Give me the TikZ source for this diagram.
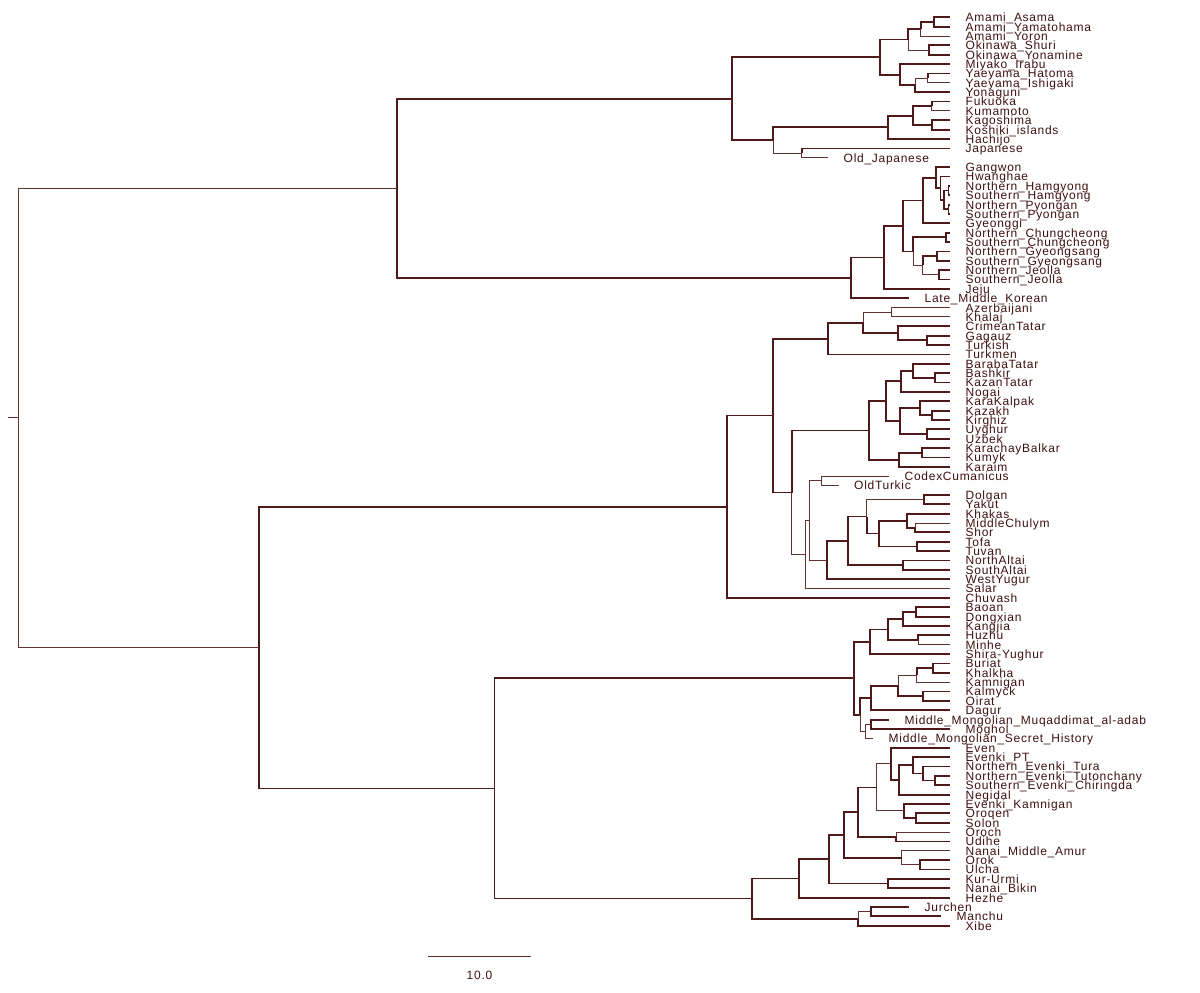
\documentclass[tikz,border=0pt]{standalone}
\usepackage{fontspec}
\newfontfamily\lblfont[LetterSpace=6]{Liberation Sans}
\usetikzlibrary{calc}
\definecolor{ln}{RGB}{77,25,25}
\definecolor{lnl}{RGB}{100,50,50}
\definecolor{tx}{RGB}{62,16,16}
\newcommand\mkleaf[3]{%
  \coordinate (l#1) at (#2,{-(17.3+9.365*#1)});
  \node[lab] (t#1) at ([xshift=15.5pt,yshift=-4.4pt]l#1) {#3};}
\newcommand\mknode[6]{%
  \path let \p1=(#3), \p2=(#4) in coordinate (#1) at (#2,{0.5*\y1+0.5*\y2});
  \draw[#5] (#1) |- (#3);
  \draw[#6] (#1) |- (#4);}
\begin{document}
\begin{tikzpicture}[x=1pt,y=1pt,
  tk/.style={draw=ln,line width=1.8pt},
  tn/.style={draw=lnl,line width=1pt},
  lab/.style={anchor=base west,inner sep=0pt,text=tx,font=\lblfont\fontsize{12}{13}\selectfont}]
\useasboundingbox (0,0) rectangle (1200,-993);
% ---------- leaves ----------
\mkleaf{0}{950}{Amami\_Asama}
\mkleaf{1}{950}{Amami\_Yamatohama}
\mkleaf{2}{950}{Amami\_Yoron}
\mkleaf{3}{950}{Okinawa\_Shuri}
\mkleaf{4}{950}{Okinawa\_Yonamine}
\mkleaf{5}{950}{Miyako\_Irabu}
\mkleaf{6}{950}{Yaeyama\_Hatoma}
\mkleaf{7}{950}{Yaeyama\_Ishigaki}
\mkleaf{8}{950}{Yonaguni}
\mkleaf{9}{950}{Fukuoka}
\mkleaf{10}{950}{Kumamoto}
\mkleaf{11}{950}{Kagoshima}
\mkleaf{12}{950}{Koshiki\_islands}
\mkleaf{13}{950}{Hachijo}
\mkleaf{14}{950}{Japanese}
\mkleaf{15}{828}{Old\_Japanese}
\mkleaf{16}{950}{Gangwon}
\mkleaf{17}{950}{Hwanghae}
\mkleaf{18}{950}{Northern\_Hamgyong}
\mkleaf{19}{950}{Southern\_Hamgyong}
\mkleaf{20}{950}{Northern\_Pyongan}
\mkleaf{21}{950}{Southern\_Pyongan}
\mkleaf{22}{950}{Gyeonggi}
\mkleaf{23}{950}{Northern\_Chungcheong}
\mkleaf{24}{950}{Southern\_Chungcheong}
\mkleaf{25}{950}{Northern\_Gyeongsang}
\mkleaf{26}{950}{Southern\_Gyeongsang}
\mkleaf{27}{950}{Northern\_Jeolla}
\mkleaf{28}{950}{Southern\_Jeolla}
\mkleaf{29}{950}{Jeju}
\mkleaf{30}{909}{Late\_Middle\_Korean}
\mkleaf{31}{950}{Azerbaijani}
\mkleaf{32}{950}{Khalaj}
\mkleaf{33}{950}{CrimeanTatar}
\mkleaf{34}{950}{Gagauz}
\mkleaf{35}{950}{Turkish}
\mkleaf{36}{950}{Turkmen}
\mkleaf{37}{950}{BarabaTatar}
\mkleaf{38}{950}{Bashkir}
\mkleaf{39}{950}{KazanTatar}
\mkleaf{40}{950}{Nogai}
\mkleaf{41}{950}{KaraKalpak}
\mkleaf{42}{950}{Kazakh}
\mkleaf{43}{950}{Kirghiz}
\mkleaf{44}{950}{Uyghur}
\mkleaf{45}{950}{Uzbek}
\mkleaf{46}{950}{KarachayBalkar}
\mkleaf{47}{950}{Kumyk}
\mkleaf{48}{950}{Karaim}
\mkleaf{49}{889}{CodexCumanicus}
\mkleaf{50}{838.5}{OldTurkic}
\mkleaf{51}{950}{Dolgan}
\mkleaf{52}{950}{Yakut}
\mkleaf{53}{950}{Khakas}
\mkleaf{54}{950}{MiddleChulym}
\mkleaf{55}{950}{Shor}
\mkleaf{56}{950}{Tofa}
\mkleaf{57}{950}{Tuvan}
\mkleaf{58}{950}{NorthAltai}
\mkleaf{59}{950}{SouthAltai}
\mkleaf{60}{950}{WestYugur}
\mkleaf{61}{950}{Salar}
\mkleaf{62}{950}{Chuvash}
\mkleaf{63}{950}{Baoan}
\mkleaf{64}{950}{Dongxian}
\mkleaf{65}{950}{Kangjia}
\mkleaf{66}{950}{Huzhu}
\mkleaf{67}{950}{Minhe}
\mkleaf{68}{950}{Shira-Yughur}
\mkleaf{69}{950}{Buriat}
\mkleaf{70}{950}{Khalkha}
\mkleaf{71}{950}{Kamnigan}
\mkleaf{72}{950}{Kalmyck}
\mkleaf{73}{950}{Oirat}
\mkleaf{74}{950}{Dagur}
\mkleaf{75}{889}{Middle\_Mongolian\_Muqaddimat\_al-adab}
\mkleaf{76}{950}{Moghol}
\mkleaf{77}{873}{Middle\_Mongolian\_Secret\_History}
\mkleaf{78}{950}{Even}
\mkleaf{79}{950}{Evenki\_PT}
\mkleaf{80}{950}{Northern\_Evenki\_Tura}
\mkleaf{81}{950}{Northern\_Evenki\_Tutonchany}
\mkleaf{82}{950}{Southern\_Evenki\_Chiringda}
\mkleaf{83}{950}{Negidal}
\mkleaf{84}{950}{Evenki\_Kamnigan}
\mkleaf{85}{950}{Oroqen}
\mkleaf{86}{950}{Solon}
\mkleaf{87}{950}{Oroch}
\mkleaf{88}{950}{Udihe}
\mkleaf{89}{950}{Nanai\_Middle\_Amur}
\mkleaf{90}{950}{Orok}
\mkleaf{91}{950}{Ulcha}
\mkleaf{92}{950}{Kur-Urmi}
\mkleaf{93}{950}{Nanai\_Bikin}
\mkleaf{94}{950}{Hezhe}
\mkleaf{95}{909}{Jurchen}
\mkleaf{96}{941}{Manchu}
\mkleaf{97}{950}{Xibe}
% ---------- Japonic ----------
\mknode{A1}{934.3}{l0}{l1}{tk}{tk}
\mknode{A2}{920.7}{A1}{l2}{tk}{tn}
\mknode{O1}{929.3}{l3}{l4}{tk}{tk}
\mknode{AO}{908.3}{A2}{O1}{tk}{tn}
\mknode{Y1}{927.7}{l6}{l7}{tk}{tn}
\mknode{Y2}{915}{Y1}{l8}{tn}{tk}
\mknode{SR}{900}{l5}{Y2}{tk}{tk}
\mknode{RY}{880}{AO}{SR}{tk}{tk}
\mknode{KA}{931.7}{l9}{l10}{tk}{tn}
\mknode{KB}{931.7}{l11}{l12}{tk}{tk}
\mknode{KY}{913.3}{KA}{KB}{tk}{tk}
\mknode{DI}{887.7}{KY}{l13}{tk}{tk}
\mknode{JO}{801.7}{l14}{l15}{tk}{tn}
\mknode{JM}{773.3}{DI}{JO}{tk}{tn}
\mknode{JP}{732.3}{RY}{JM}{tk}{tk}
% ---------- Koreanic ----------
\mknode{K8}{948.5}{l18}{l19}{tk}{tk}
\mknode{K9}{948.5}{l20}{l21}{tk}{tk}
\mknode{K7}{944}{K8}{K9}{tk}{tk}
\mknode{K6}{940.5}{l17}{K7}{tk}{tk}
\mknode{K5}{936}{l16}{K6}{tk}{tk}
\mknode{K4}{923.3}{K5}{l22}{tk}{tk}
\mknode{K11}{945.7}{l23}{l24}{tk}{tk}
\mknode{K13}{936.7}{l25}{l26}{tk}{tk}
\mknode{K14}{939.3}{l27}{l28}{tk}{tk}
\mknode{K12}{922.7}{K13}{K14}{tk}{tn}
\mknode{K10}{913.3}{K11}{K12}{tk}{tn}
\mknode{K3}{902.7}{K4}{K10}{tk}{tk}
\mknode{K2}{884.3}{K3}{l29}{tk}{tk}
\mknode{KR}{851}{K2}{l30}{tk}{tk}
\mknode{JK}{397}{JP}{KR}{tk}{tk}
% ---------- Turkic ----------
\mknode{T4}{891.7}{l31}{l32}{tn}{tn}
\mknode{T6}{926.7}{l34}{l35}{tk}{tk}
\mknode{T5}{898.3}{l33}{T6}{tk}{tk}
\mknode{T3}{863.3}{T4}{T5}{tn}{tk}
\mknode{T2}{828.3}{T3}{l36}{tk}{tk}
\mknode{T12}{935}{l38}{l39}{tk}{tk}
\mknode{T11}{912.7}{l37}{T12}{tk}{tk}
\mknode{T10}{901.3}{T11}{l40}{tk}{tk}
\mknode{T15}{931.7}{l42}{l43}{tk}{tk}
\mknode{T14}{920}{l41}{T15}{tk}{tk}
\mknode{T16}{926.7}{l44}{l45}{tk}{tk}
\mknode{T13}{900}{T14}{T16}{tk}{tk}
\mknode{T9}{885.7}{T10}{T13}{tk}{tk}
\mknode{T18}{921.7}{l46}{l47}{tk}{tk}
\mknode{T17}{899}{T18}{l48}{tk}{tk}
\mknode{T8}{869.3}{T9}{T17}{tk}{tk}
\mknode{T21}{821}{l49}{l50}{tn}{tn}
\mknode{T25}{924.3}{l51}{l52}{tk}{tk}
\mknode{T28}{915.3}{l54}{l55}{tn}{tk}
\mknode{T27}{906.7}{l53}{T28}{tk}{tk}
\mknode{T29}{917.3}{l56}{l57}{tk}{tk}
\mknode{T26}{879}{T27}{T29}{tk}{tk}
\mknode{T24}{866.7}{T25}{T26}{tn}{tk}
\mknode{T30}{903.3}{l58}{l59}{tk}{tk}
\mknode{T23}{847.7}{T24}{T30}{tk}{tk}
\mknode{T22}{826.7}{T23}{l60}{tk}{tk}
\mknode{T20}{809.3}{T21}{T22}{tn}{tn}
\mknode{T19}{805}{T20}{l61}{tn}{tn}
\mknode{T7}{791.7}{T8}{T19}{tk}{tn}
\mknode{T1}{772.7}{T2}{T7}{tk}{tk}
\mknode{TK}{726.7}{T1}{l62}{tk}{tk}
% ---------- Mongolic ----------
\mknode{M4}{916}{l63}{l64}{tk}{tk}
\mknode{M3}{903.3}{M4}{l65}{tk}{tk}
\mknode{M5}{918.3}{l66}{l67}{tk}{tn}
\mknode{M2}{888.3}{M3}{M5}{tk}{tk}
\mknode{M1}{870}{M2}{l68}{tk}{tk}
\mknode{M10}{933.3}{l69}{l70}{tk}{tk}
\mknode{M9}{916.7}{M10}{l71}{tk}{tn}
\mknode{M11}{923.3}{l72}{l73}{tk}{tk}
\mknode{M8}{898.3}{M9}{M11}{tn}{tk}
\mknode{M7}{870.7}{M8}{l74}{tk}{tk}
\mknode{M13}{870.7}{l75}{l76}{tk}{tk}
\mknode{M12}{865.7}{M13}{l77}{tn}{tn}
\mknode{M6}{860}{M7}{M12}{tk}{tn}
\mknode{MO}{854}{M1}{M6}{tk}{tk}
% ---------- Tungusic ----------
\mknode{E1}{935}{l81}{l82}{tk}{tk}
\mknode{E2}{923.3}{l80}{E1}{tk}{tk}
\mknode{E3}{913.3}{l79}{E2}{tk}{tk}
\mknode{E4}{899}{E3}{l83}{tk}{tk}
\mknode{E5}{890.7}{l78}{E4}{tk}{tk}
\mknode{E6}{916}{l85}{l86}{tk}{tk}
\mknode{E7}{904.3}{l84}{E6}{tk}{tk}
\mknode{E8}{876.7}{E5}{E7}{tn}{tn}
\mknode{E9}{896}{l87}{l88}{tn}{tk}
\mknode{E10}{858.3}{E8}{E9}{tk}{tk}
\mknode{E11}{920}{l90}{l91}{tk}{tk}
\mknode{E12}{901.7}{l89}{E11}{tn}{tn}
\mknode{E13}{844}{E10}{E12}{tk}{tk}
\mknode{E14}{888.3}{l92}{l93}{tk}{tk}
\mknode{E15}{829.3}{E13}{E14}{tk}{tk}
\mknode{E16}{799.3}{E15}{l94}{tk}{tk}
\mknode{MJ1}{870.7}{l95}{l96}{tk}{tk}
\mknode{MJ2}{858.3}{MJ1}{l97}{tn}{tk}
\mknode{TU}{751.7}{E16}{MJ2}{tk}{tk}
% ---------- upper levels ----------
\mknode{MT}{494.5}{MO}{TU}{tk}{tk}
\mknode{TM}{259}{TK}{MT}{tk}{tk}
\mknode{RT}{18}{JK}{TM}{tn}{tn}
\coordinate (stub) at ($(RT)+(-10,0)$);
\draw[tn] (stub) -- (RT);
% ---------- scale bar ----------
\coordinate (sb1) at (428,-956);
\coordinate (sb2) at (531,-956);
\draw[tn] (sb1) -- (sb2);
\node[lab,anchor=base] (sbl) at (479.5,-979) {10.0};
\end{tikzpicture}
\end{document}
